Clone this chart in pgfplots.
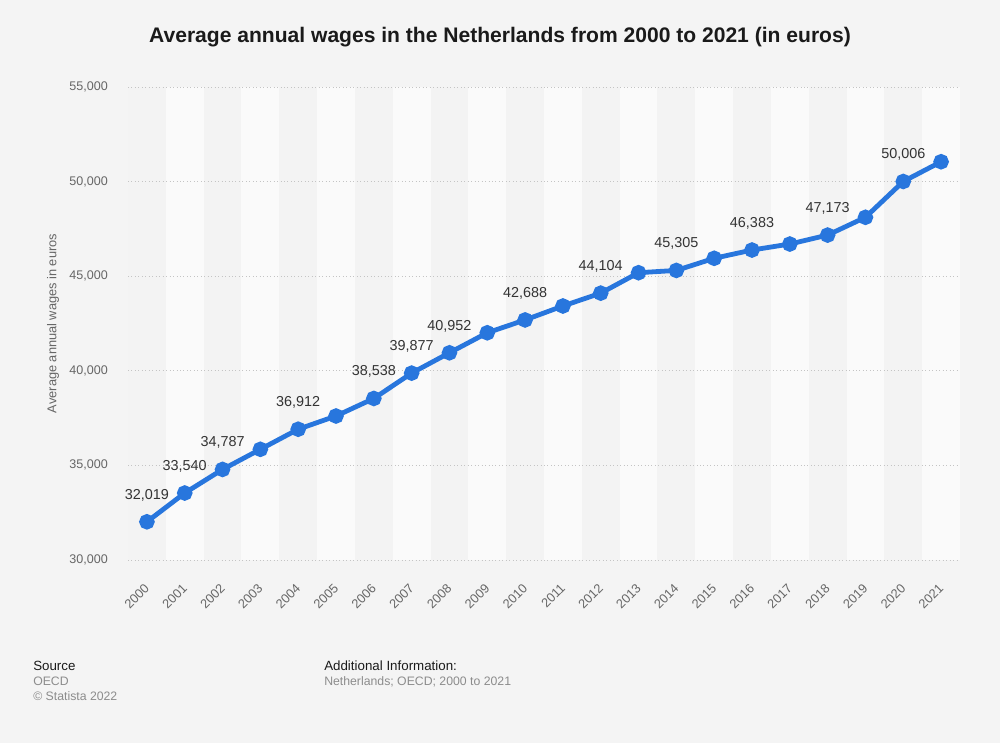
\documentclass[border=0pt]{standalone}
\usepackage{pgfplots}
\pgfplotsset{compat=1.18}
\usepackage{fontspec}
\setmainfont{Liberation Sans}
\definecolor{bg}{HTML}{F4F4F4}
\definecolor{stripeA}{HTML}{F3F3F3}
\definecolor{stripeB}{HTML}{FAFAFA}
\definecolor{lineblue}{HTML}{2876DD}
\definecolor{tickgray}{HTML}{666666}
\definecolor{gridgray}{HTML}{C4C4C4}
\definecolor{labeltext}{HTML}{333333}
\definecolor{titletext}{HTML}{1A1A1A}
\definecolor{foottext}{HTML}{8C8C8C}
\begin{document}
\begin{tikzpicture}[x=1pt,y=1pt]
\fill[bg] (0,0) rectangle (750,557.25);
\node[anchor=base, font=\fontsize{15.8}{19}\selectfont\bfseries, text=titletext, inner sep=0pt] at (375,525.3) {Average annual wages in the Netherlands from 2000 to 2021 (in euros)};
\begin{axis}[
  at={(96pt,137.25pt)}, anchor=south west,
  scale only axis, width=624pt, height=354.75pt,
  xmin=1999.5, xmax=2021.5, ymin=30000, ymax=55000,
  axis line style={draw=none},
  axis background/.style={fill=stripeA},
  major tick length=0pt,
  xtick={2000,...,2021},
  ytick={30000,35000,...,55000},
  scaled y ticks=false,
  /pgf/number format/assume math mode=true,
  /pgf/number format/1000 sep={,},
  xticklabel style={/pgf/number format/1000 sep={}, rotate=45, anchor=east, inner sep=0pt, yshift=-13.9pt, xshift=-13.7pt, font=\fontsize{9.6}{11}\selectfont, text=tickgray},
  yticklabel style={anchor=east, inner sep=0pt, xshift=-15pt, font=\fontsize{9.4}{11}\selectfont, text=tickgray},
  ylabel={Average annual wages in euros},
  ylabel style={at={(axis description cs:-0.0901,0.5)}, anchor=center, font=\fontsize{9.6}{11}\selectfont, text=tickgray},
  clip=false,
]
\pgfplotsinvokeforeach{2001,2003,2005,2007,2009,2011,2013,2015,2017,2019,2021}{
  \fill[stripeB] (axis cs:#1-0.5,30000) rectangle (axis cs:#1+0.5,55000);
}
\pgfplotsinvokeforeach{30000,35000,40000,45000,50000,55000}{
  \addplot[gridgray, dotted, line width=0.6pt, forget plot] coordinates {(1999.5,#1) (2021.5,#1)};
}
\addplot[lineblue, line width=3.6pt, mark=*, mark size=4pt, mark options={solid, fill=lineblue, draw=none}] coordinates {
(2000,32019) (2001,33540) (2002,34787) (2003,35850) (2004,36912) (2005,37610)
(2006,38538) (2007,39877) (2008,40952) (2009,42010) (2010,42688) (2011,43425)
(2012,44104) (2013,45185) (2014,45305) (2015,45946) (2016,46383) (2017,46700)
(2018,47173) (2019,48113) (2020,50006) (2021,51050)
};
\addplot[draw=none, mark=none, nodes near coords, point meta=y,
  every node near coord/.style={anchor=center, yshift=20pt, inner sep=0pt, font=\fontsize{10.8}{13}\selectfont, text=labeltext}] coordinates {
(2000,32019) (2001,33540) (2002,34787) (2004,36912) (2006,38538) (2007,39877)
(2008,40952) (2010,42688) (2012,44104) (2014,45305) (2016,46383) (2018,47173)
(2020,50006)
};
\end{axis}
\node[anchor=base west, inner sep=0pt, font=\fontsize{10}{12}\selectfont, text=titletext] at (24.75,54.75) {Source};
\node[anchor=base west, inner sep=0pt, font=\fontsize{9.2}{11}\selectfont, text=foottext] at (24.75,42.98) {OECD};
\node[anchor=base west, inner sep=0pt, font=\fontsize{9.2}{11}\selectfont, text=foottext] at (24.75,31.5) {© Statista 2022};
\node[anchor=base west, inner sep=0pt, font=\fontsize{10}{12}\selectfont, text=titletext] at (243,54.75) {Additional Information:};
\node[anchor=base west, inner sep=0pt, font=\fontsize{9.2}{11}\selectfont, text=foottext] at (243,42.98) {Netherlands; OECD; 2000 to 2021};
\end{tikzpicture}
\end{document}
